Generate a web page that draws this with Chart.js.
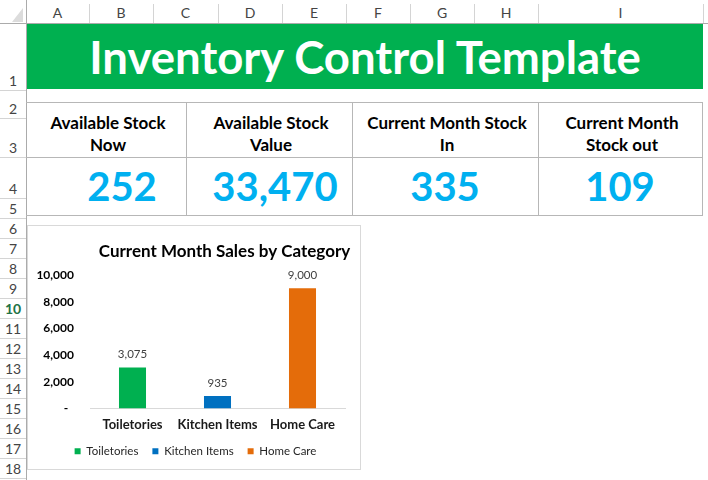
<!DOCTYPE html>
<html lang="en">
<head>
<meta charset="utf-8">
<title>Inventory Control Template</title>
<script src="https://cdn.jsdelivr.net/npm/chart.js@4.4.1/dist/chart.umd.min.js"></script>
<style>
  body { margin: 0; background: #fff; font-family: Lato, "Open Sans", sans-serif; }
  #sheet { position: relative; width: 708px; height: 480px; overflow: hidden; background: #fff; }
  .colhead { position: absolute; top: 0; height: 23px; line-height: 26px; text-align: center; font-size: 14px; color: #444; }
  .colsep { position: absolute; top: 4px; width: 1px; height: 19px; background: #d4d4d4; }
  .rowhead { position: absolute; left: 0; width: 26px; text-align: center; font-size: 14px; color: #444; }
  .rowsep { position: absolute; left: 0; width: 26px; height: 1px; background: #d4d4d4; }
  .hline { position: absolute; height: 1px; background: #b7b7b7; }
  .vline { position: absolute; width: 1px; background: #b7b7b7; }
  #banner { position: absolute; left: 27px; top: 24px; width: 676px; height: 65px; background: #00b050;
            color: #fff; font-weight: bold; font-size: 45.5px; display: flex; align-items: center; justify-content: center; line-height: 45px; }
  .kpiHead { position: absolute; top: 112px; width: 200px; text-align: center; font-weight: bold; font-size: 17px; line-height: 22px; color: #000; }
  .kpiVal { position: absolute; top: 166px; width: 200px; text-align: center; font-weight: bold; font-size: 40px; line-height: 40px; color: #00b0f0; }
  #chartBox { position: absolute; left: 27px; top: 225px; width: 334px; height: 245px; border: 1px solid #d9d9d9; box-sizing: border-box; background: #fff; }
</style>
</head>
<body>
<div id="sheet">
  <div id="banner">Inventory Control Template</div>
  <div id="chartBox"><canvas id="chart" width="332" height="243"></canvas></div>
</div>

<script>
// KPI cells
var kpiTitles = [['Available Stock', 'Now'], ['Available Stock', 'Value'], ['Current Month Stock', 'In'], ['Current Month', 'Stock out']];
var kpiValues = [252, 33470, 335, 109];

// chart data
var chartTitle = 'Current Month Sales by Category';
var categories = ['Toiletories', 'Kitchen Items', 'Home Care'];
var salesValues = [3075, 935, 9000];
var barColors = ['#00b050', '#0070c0', '#e46c0a'];
var yTicks = [0, 2000, 4000, 6000, 8000, 10000];

// sheet frame
var colLetters = ['A', 'B', 'C', 'D', 'E', 'F', 'G', 'H', 'I'];
var colEdges = [26, 89, 153, 218, 282, 346, 410, 474, 538, 703];
var rowEdges = [23, 90, 118, 157, 198, 218, 238, 258, 278, 298, 318, 338, 358, 378, 398, 418, 438, 458, 478, 498];
var selectedRow = 10;

var sheet = document.getElementById('sheet');

function addDiv(cls, css, text) {
    var d = document.createElement('div');
    if (cls) d.className = cls;
    d.style.cssText = css;
    if (text !== undefined) d.innerHTML = text;
    sheet.appendChild(d);
    return d;
}

// column headers
colLetters.forEach(function(letter, i) {
    addDiv('colhead', 'left:' + colEdges[i] + 'px;width:' + (colEdges[i + 1] - colEdges[i]) + 'px;', letter);
});
colEdges.forEach(function(x) {
    addDiv('colsep', 'left:' + x + 'px;');
});
addDiv('', 'position:absolute;left:0;top:23px;width:708px;height:1px;background:#ababab;');
addDiv('', 'position:absolute;left:26px;top:0;width:1px;height:480px;background:#ababab;');
// corner triangle
addDiv('', 'position:absolute;left:12px;top:8px;width:0;height:0;border-left:11px solid transparent;border-bottom:14px solid #dcdcdc;');

// row headers
for (var r = 0; r < rowEdges.length - 1; r++) {
    var top = rowEdges[r], bottom = rowEdges[r + 1];
    var sel = (r + 1) === selectedRow;
    if (sel) {
        addDiv('', 'position:absolute;left:0;top:' + top + 'px;width:26px;height:' + (bottom - top) + 'px;background:#e1e1e1;');
        addDiv('', 'position:absolute;left:24px;top:' + top + 'px;width:3px;height:' + (bottom - top) + 'px;background:#217346;');
    }
    addDiv('rowhead', 'top:' + (bottom - 18) + 'px;line-height:18px;' + (sel ? 'color:#217346;font-weight:bold;' : ''), String(r + 1));
    addDiv('rowsep', 'top:' + bottom + 'px;');
}

// KPI table
var kpiEdges = [26, 186, 352, 538, 702];
var kpiCenters = [122, 275, 445, 620];
addDiv('hline', 'left:26px;top:102px;width:677px;');
addDiv('hline', 'left:26px;top:157px;width:677px;');
addDiv('hline', 'left:26px;top:215px;width:677px;');
kpiEdges.forEach(function(x, i) {
    if (i > 0) addDiv('vline', 'left:' + x + 'px;top:102px;height:114px;');
});
kpiTitles.forEach(function(lines, i) {
    var mid = (kpiEdges[i] + kpiEdges[i + 1]) / 2 + 2;
    addDiv('kpiHead', 'left:' + (mid - 100) + 'px;', lines.join('<br>'));
    addDiv('kpiVal', 'left:' + (kpiCenters[i] - 100) + 'px;', kpiValues[i].toLocaleString('en-US'));
});
sheet.appendChild(document.getElementById('chartBox'));

// chart
var titlePlugin = {
    id: 'sheetTitle',
    afterDraw: function(chart) {
        var ctx = chart.ctx;
        var area = chart.chartArea;
        ctx.save();
        ctx.font = 'bold 17px Lato';
        ctx.fillStyle = '#000';
        ctx.textAlign = 'center';
        ctx.textBaseline = 'middle';
        ctx.fillText(chartTitle, (area.left + area.right) / 2 + 7, 26);
        ctx.restore();
    }
};

var valueLabels = {
    id: 'valueLabels',
    afterDatasetsDraw: function(chart) {
        var ctx = chart.ctx;
        ctx.save();
        ctx.font = '11.5px Lato';
        ctx.fillStyle = '#404040';
        ctx.textAlign = 'center';
        ctx.textBaseline = 'middle';
        chart.data.datasets.forEach(function(ds, i) {
            var meta = chart.getDatasetMeta(i);
            meta.data.forEach(function(bar, j) {
                var v = ds.data[j];
                if (v === null || v === undefined) return;
                ctx.fillText(v.toLocaleString('en-US'), bar.x, bar.y - 13);
            });
        });
        ctx.restore();
    }
};

// legend sits a bit right of the canvas centre in the original
var legendShift = {
    id: 'legendShift',
    afterLayout: function(chart) {
        chart.legend.left += 9;
        chart.legend.right += 9;
    }
};

var datasets = categories.map(function(name, i) {
    return {
        label: name,
        data: categories.map(function(c, j) { return j === i ? salesValues[i] : null; }),
        backgroundColor: barColors[i],
        borderWidth: 0,
        skipNull: true,
        barPercentage: 0.318,
        categoryPercentage: 1
    };
});

var ctx = document.getElementById('chart').getContext('2d');
var myChart = new Chart(ctx, {
    type: 'bar',
    data: { labels: categories, datasets: datasets },
    options: {
        responsive: false,
        animation: false,
        layout: { padding: { top: 49, right: 15, bottom: 2, left: 0 } },
        plugins: {
            title: { display: false },
            tooltip: { enabled: false },
            legend: {
                position: 'bottom',
                labels: {
                    boxWidth: 6,
                    boxHeight: 6,
                    padding: 14,
                    color: '#262626',
                    font: { family: 'Lato', size: 11.5 }
                }
            }
        },
        scales: {
            x: {
                grid: { display: false, drawTicks: false },
                border: { display: true, color: '#d9d9d9', width: 1 },
                ticks: {
                    color: '#1a1a1a', padding: 9, maxRotation: 0, minRotation: 0, autoSkip: false,
                    font: { family: 'Lato', size: 13, weight: 'bold' }
                },
                afterFit: function(scale) { scale.height = 23; }
            },
            y: {
                min: 0,
                max: 10000,
                grid: { display: false, drawTicks: false },
                border: { display: false },
                ticks: {
                    color: '#000',
                    padding: 16,
                    font: { family: 'Lato', size: 12, weight: 'bold' },
                    callback: function(v) { return v === 0 ? '-  ' : v.toLocaleString('en-US'); }
                },
                afterBuildTicks: function(scale) {
                    scale.ticks = yTicks.map(function(v) { return { value: v }; });
                },
                afterFit: function(scale) { scale.width = 62; }
            }
        }
    },
    plugins: [titlePlugin, valueLabels, legendShift]
});
</script>
</body>
</html>
